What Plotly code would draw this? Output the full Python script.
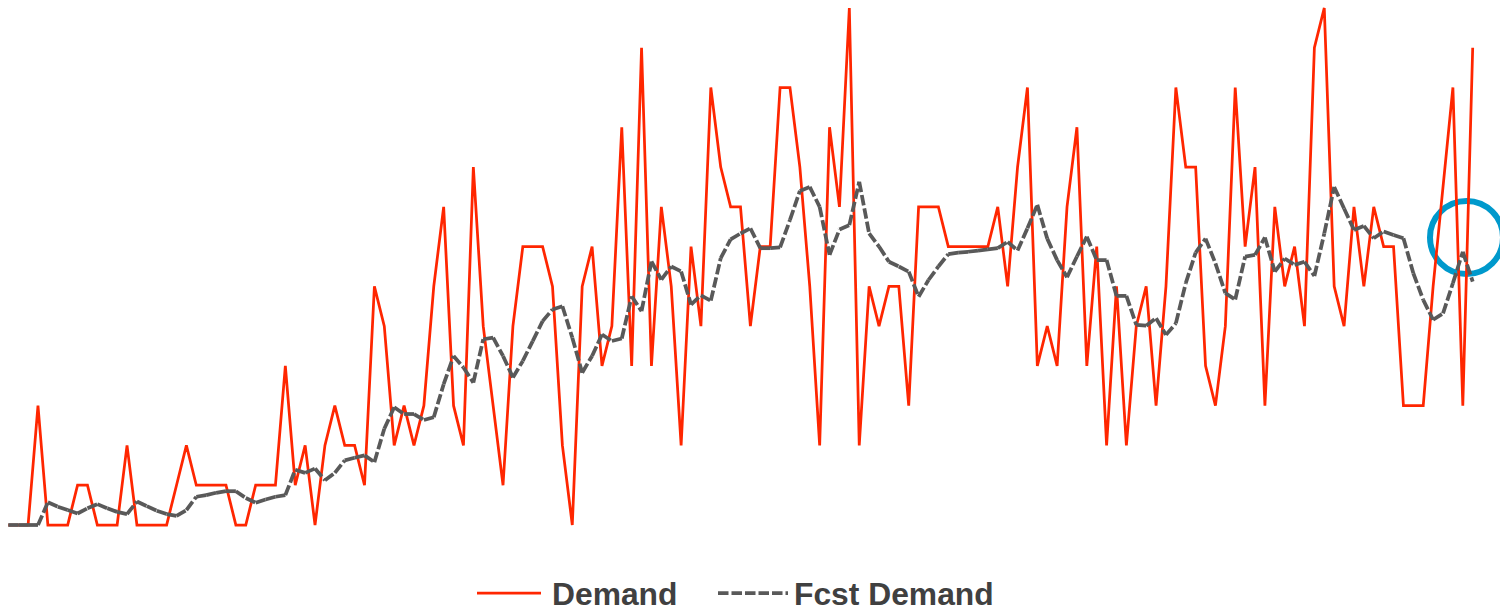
import plotly.graph_objects as go

# ---------------- data ----------------
demand = [
    0, 0, 0, 3, 0, 0, 0, 1, 1, 0, 0, 0, 2, 0, 0, 0, 0, 1, 2, 1, 1, 1, 1, 0, 0, 1,
    1, 1, 4, 1, 2, 0, 2, 3, 2, 2, 1, 6, 5, 2, 3, 2, 3, 6, 8, 3, 2, 9, 5, 3,
    1, 5, 7, 7, 7, 6, 2, 0, 6, 7, 4, 5, 10, 4, 12, 4, 8, 6, 2, 7, 5, 11,
    9, 8, 8, 5, 7, 7, 11, 11, 9, 6, 2, 10, 8, 13, 2, 6, 5, 6, 6, 3, 8, 8, 8, 7, 7, 7, 7,
    7, 8, 6, 9, 11, 4, 5, 4, 8, 10, 4, 7, 2, 6, 2, 5, 6, 3, 6, 11, 9, 9,
    4, 3, 5, 11, 7, 9, 3, 8, 6, 7, 5, 12, 13, 6, 5, 8, 6, 8, 7, 7, 3, 3, 3, 6, 8.5, 11, 3, 12,
]

fcst_demand = [
    0, 0, 0, 0, 0.57, 0.46, 0.375, 0.29, 0.42, 0.525, 0.42, 0.33, 0.275, 0.59, 0.475, 0.36,
    0.275, 0.23, 0.375, 0.71, 0.75, 0.81, 0.85, 0.85, 0.68, 0.56,
    0.64, 0.71, 0.75, 1.39, 1.31, 1.42, 1.125, 1.31, 1.625, 1.69, 1.75, 1.58, 2.42, 2.96,
    2.79, 2.79, 2.64, 2.71, 3.54, 4.25, 3.96, 3.58, 4.67, 4.71,
    4.25, 3.71, 4.125, 4.625, 5.125, 5.42, 5.5, 4.71, 3.83, 4.25, 4.79, 4.625, 4.69, 5.75,
    5.375, 6.625, 6.17, 6.5, 6.375, 5.54, 5.775, 5.64,
    6.71, 7.18, 7.33, 7.46, 6.96, 6.96, 6.98, 7.67, 8.4, 8.5, 8.0, 6.79, 7.43, 7.54, 8.63,
    7.33, 7.0, 6.62, 6.5, 6.37, 5.74, 6.16, 6.5, 6.81, 6.85, 6.87, 6.9,
    6.93, 6.96, 7.12, 6.9, 7.46, 8.05, 7.2, 6.66, 6.23, 6.75, 7.25, 6.66, 6.66, 5.76, 5.76,
    5.03, 5.01, 5.2, 4.78, 5.07, 6.08, 6.85,
    7.2, 6.58, 5.83, 5.67, 6.75, 6.79, 7.23, 6.37, 6.7, 6.54, 6.62, 6.26, 7.33, 8.5, 7.96,
    7.42, 7.52, 7.21, 7.38, 7.29, 7.21, 6.33, 5.66, 5.16, 5.32, 6.08, 6.87, 6.12,
]

periods = list(range(len(demand)))
series_names = ["Demand", "Fcst Demand"]

# ---------------- styles ----------------
RED = "#FF2600"
GRAY = "#595959"
BLUE = "#0099CC"
TEXT = "#404040"
DASH = "10.5px,3px"
W, H = 1500, 613
MB = 53
PH = H - MB  # plot area height in px
LEG_Y = 594  # legend centre line (px from top)


def px_x(p):
    return p / W


def px_y(p):
    return (PH - p) / PH


fig = go.Figure()

fig.add_trace(go.Scatter(
    x=periods, y=demand, mode="lines", name=series_names[0],
    line=dict(color=RED, width=2.75), hoverinfo="skip", showlegend=False,
))

# dash pattern restarts at every point in the original, so draw per segment
for i in range(len(fcst_demand) - 1):
    fig.add_trace(go.Scatter(
        x=periods[i:i + 2], y=fcst_demand[i:i + 2], mode="lines",
        name=series_names[1], legendgroup="fcst",
        line=dict(color=GRAY, width=3.75, dash=DASH),
        hoverinfo="skip", showlegend=False,
    ))

shapes = [
    # highlight ring
    dict(type="circle", xref="paper", yref="paper",
         x0=px_x(1430), x1=px_x(1503), y0=px_y(274), y1=px_y(201),
         line=dict(color=BLUE, width=6), layer="below"),
    # legend samples
    dict(type="line", xref="paper", yref="paper",
         x0=px_x(477), x1=px_x(541), y0=px_y(LEG_Y - 1), y1=px_y(LEG_Y - 1),
         line=dict(color=RED, width=2.75)),
    dict(type="line", xref="paper", yref="paper",
         x0=px_x(718), x1=px_x(788), y0=px_y(LEG_Y - 1), y1=px_y(LEG_Y - 1),
         line=dict(color=GRAY, width=3.75, dash=DASH)),
]

FONT = dict(family="Liberation Sans, Arial, sans-serif", size=31.8, color=TEXT, weight="bold")
annotations = [
    dict(text=series_names[0], xref="paper", yref="paper", x=px_x(550), y=px_y(LEG_Y),
         xanchor="left", yanchor="middle", showarrow=False, font=FONT),
    dict(text=series_names[1], xref="paper", yref="paper", x=px_x(792), y=px_y(LEG_Y),
         xanchor="left", yanchor="middle", showarrow=False, font=FONT),
]

n = len(periods) - 1
fig.update_layout(
    width=W, height=H,
    margin=dict(l=0, r=0, t=0, b=MB, pad=0),
    paper_bgcolor="white", plot_bgcolor="white",
    showlegend=False,
    xaxis=dict(range=[-8.3 / 9.895, n + (W - 1472.7) / 9.895], visible=False, fixedrange=True),
    yaxis=dict(range=[-0.88, 13.2], visible=False, fixedrange=True),
    shapes=shapes, annotations=annotations,
)

fig.write_html("out.html", config={"displayModeBar": False})
